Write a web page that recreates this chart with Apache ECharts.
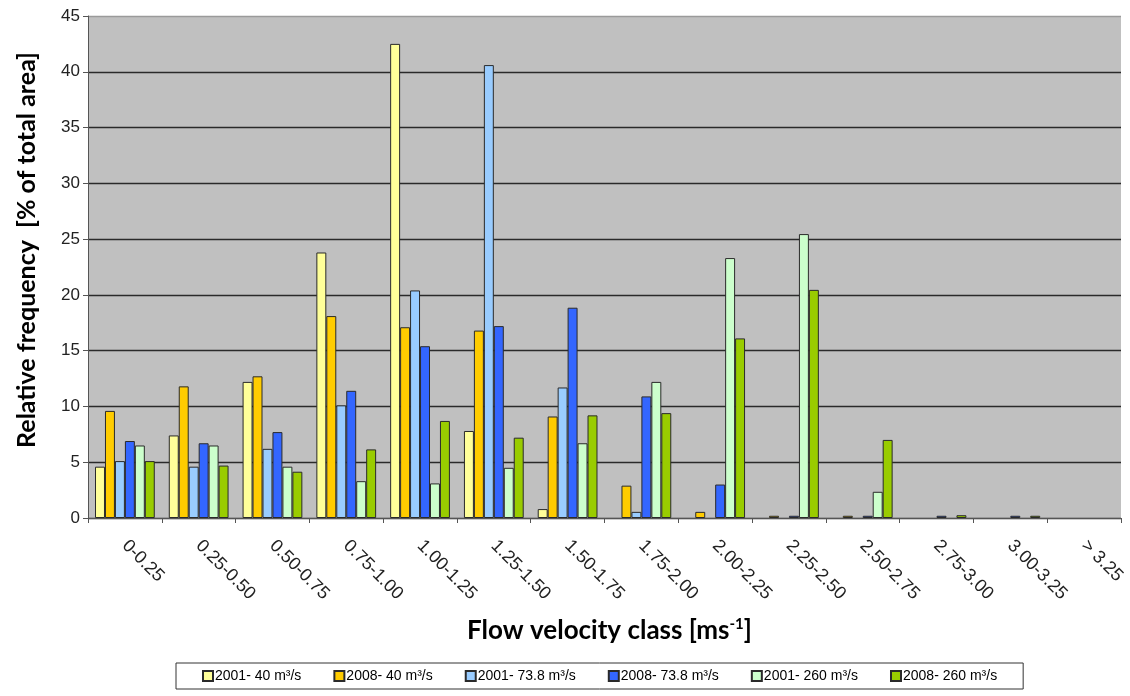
<!DOCTYPE html>
<html>
<head>
<meta charset="utf-8">
<script src="https://cdn.jsdelivr.net/npm/echarts@6/dist/echarts.min.js"></script>
<style>
  html, body { margin: 0; padding: 0; background: #fff; }
  #chart { width: 1130px; height: 696px; }
</style>
</head>
<body>
<div id="chart"></div>
<script>
const velocityClasses = ['0-0.25', '0.25-0.50', '0.50-0.75', '0.75-1.00', '1.00-1.25', '1.25-1.50', '1.50-1.75',
  '1.75-2.00', '2.00-2.25', '2.25-2.50', '2.50-2.75', '2.75-3.00', '3.00-3.25', '> 3.25']

const seriesNames = ['2001- 40 m³/s', '2008- 40 m³/s', '2001- 73.8 m³/s', '2008- 73.8 m³/s', '2001- 260 m³/s', '2008- 260 m³/s']

// relative frequency [%] per class, 0 = no bar drawn
const q2001_40 = [4.6, 7.4, 12.2, 23.8, 42.5, 7.8, 0.8, 0, 0, 0, 0, 0, 0, 0]
const q2008_40 = [9.6, 11.8, 12.7, 18.1, 17.1, 16.8, 9.1, 2.9, 0.55, 0.2, 0.2, 0, 0, 0]
const q2001_73 = [5.1, 4.6, 6.2, 10.1, 20.4, 40.6, 11.7, 0.55, 0, 0, 0, 0, 0, 0]
const q2008_73 = [6.9, 6.7, 7.7, 11.4, 15.4, 17.2, 18.85, 10.9, 3.0, 0.2, 0.2, 0.2, 0.2, 0]
const q2001_260 = [6.5, 6.5, 4.6, 3.3, 3.1, 4.5, 6.7, 12.2, 23.3, 25.45, 2.35, 0, 0, 0]
const q2008_260 = [5.1, 4.7, 4.15, 6.15, 8.7, 7.2, 9.2, 9.4, 16.1, 20.45, 7.0, 0.25, 0.2, 0]

const yTicks = [0, 5, 10, 15, 20, 25, 30, 35, 40, 45]

const seriesColors = ['#FFFF99', '#FFCC00', '#99CCFF', '#3366FF', '#CCFFCC', '#99CC00']
const allValues = [q2001_40, q2008_40, q2001_73, q2008_73, q2001_260, q2008_260]

const chart = echarts.init(document.getElementById('chart'))

const seriesData = seriesNames.map((name, i) => ({
  name,
  type: 'bar',
  data: allValues[i].map(v => v === 0 ? '-' : v),
  barGap: '0%',
  barCategoryGap: '19%',
  itemStyle: {
    color: seriesColors[i],
    borderColor: '#2a2a2a',
    borderWidth: 1
  }
}))

chart.setOption({
  animation: false,
  backgroundColor: '#ffffff',
  textStyle: { fontFamily: 'Liberation Sans, Arial, sans-serif', color: '#000' },
  grid: {
    left: 88,
    right: 9,
    top: 16,
    bottom: 178,
    show: true,
    backgroundColor: '#C0C0C0',
    borderWidth: 0
  },
  legend: {
    data: seriesNames,
    left: 176,
    top: 663,
    width: 940,
    itemWidth: 10,
    itemHeight: 10,
    itemGap: 32,
    icon: 'rect',
    padding: [6, 26, 6, 26],
    borderColor: '#333',
    borderWidth: 1,
    textStyle: { fontSize: 14, color: '#000', fontFamily: 'Liberation Sans, Arial, sans-serif', padding: [0, 0, 0, -3] }
  },
  xAxis: {
    type: 'category',
    data: velocityClasses,
    name: '{t|Flow velocity class [ms}{s|-1}{t|]}',
    nameLocation: 'middle',
    nameGap: 99,
    nameTextStyle: {
      padding: [0, 0, 0, 10],
      rich: {
        t: { fontFamily: 'Lato', fontWeight: 'bold', fontSize: 26, color: '#000' },
        s: { fontFamily: 'Lato', fontWeight: 'bold', fontSize: 15, color: '#000', verticalAlign: 'top', padding: [0, 0, 12, 0] }
      }
    },
    axisLine: { lineStyle: { color: '#555', width: 1 } },
    axisTick: { show: true, length: 5, lineStyle: { color: '#555' } },
    axisLabel: {
      rotate: -45,
      margin: 25,
      fontSize: 18,
      color: '#222',
      fontFamily: 'Liberation Sans, Arial, sans-serif'
    }
  },
  yAxis: {
    type: 'value',
    min: 0,
    max: 45,
    interval: 5,
    name: 'Relative frequency  [% of total area]',
    nameLocation: 'middle',
    nameGap: 49,
    nameTextStyle: { fontFamily: 'Lato', fontWeight: 'bold', fontSize: 25, color: '#000', padding: [0, 0, 0, 34] },
    axisLine: { show: true, lineStyle: { color: '#555', width: 1 } },
    axisTick: { show: true, length: 5, lineStyle: { color: '#555' } },
    axisLabel: {
      fontSize: 17,
      color: '#222',
      margin: 8,
      fontFamily: 'Liberation Sans, Arial, sans-serif',
      formatter: v => yTicks.includes(v) ? String(v) : ''
    },
    splitLine: {
      show: true,
      lineStyle: { color: [...yTicks.slice(0, -1).map(() => '#2a2a2a'), '#9a9a9a'], width: 1.3 }
    }
  },
  series: seriesData
})
</script>
</body>
</html>
